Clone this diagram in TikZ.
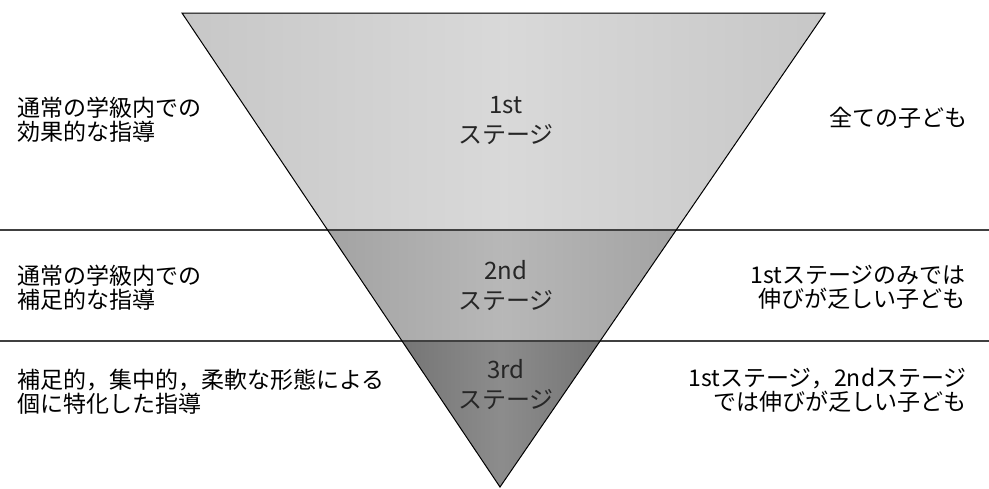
\documentclass[tikz,border=0pt]{standalone}
\usepackage{fontspec}
\setmainfont{Noto Sans CJK JP}
\usetikzlibrary{calc}
\definecolor{bandA}{gray}{0.78}
\definecolor{bandAl}{gray}{0.85}
\definecolor{bandB}{gray}{0.64}
\definecolor{bandBl}{gray}{0.72}
\definecolor{bandC}{gray}{0.46}
\definecolor{bandCl}{gray}{0.55}
\tikzset{
  lbl/.style={inner sep=0pt, font=\fontsize{23}{24}\selectfont},
  leftlbl/.style={lbl, anchor=west, align=left},
  rightlbl/.style={lbl, anchor=east, align=right},
  stagelbl/.style={inner sep=0pt, align=center, font=\fontsize{24}{30}\selectfont, text=black!85},
  sepline/.style={line width=1.1pt, black!75},
  outline/.style={line width=1pt, black}
}
\begin{document}
\begin{tikzpicture}[x=1pt,y=-1pt]
\useasboundingbox (0,0) rectangle (989,488);
\fill[white] (0,0) rectangle (989,488);
% triangle vertices
\coordinate (TL) at (182,13);
\coordinate (TR) at (825,13);
\coordinate (B) at (500,487);
\coordinate (L1) at ($(TL)!0.4578!(B)$);
\coordinate (R1) at ($(TR)!0.4578!(B)$);
\coordinate (L2) at ($(TL)!0.692!(B)$);
\coordinate (R2) at ($(TR)!0.692!(B)$);
% band fills
\shade[left color=bandA, right color=bandA, middle color=bandAl] (TL) -- (TR) -- (R1) -- (L1) -- cycle;
\shade[left color=bandB, right color=bandB, middle color=bandBl] (L1) -- (R1) -- (R2) -- (L2) -- cycle;
\shade[left color=bandC, right color=bandC, middle color=bandCl] (L2) -- (R2) -- (B) -- cycle;
% separator lines
\coordinate (S1a) at (0,230);
\coordinate (S1b) at (989,230);
\coordinate (S2a) at (0,341);
\coordinate (S2b) at (989,341);
\draw[sepline] (S1a) -- (S1b);
\draw[sepline] (S2a) -- (S2b);
% outline
\draw[outline, line join=miter] (TL) -- (TR) -- (B) -- cycle;
% stage labels
\node[stagelbl] (st1) at (506,121) {1st\\ステージ};
\node[stagelbl] (st2) at (506,286) {2nd\\ステージ};
\node[stagelbl] (st3) at (506,385) {3rd\\ステージ};
% left labels
\node[leftlbl] (l1) at (17,120) {通常の学級内での\\効果的な指導};
\node[leftlbl] (l2) at (17,288) {通常の学級内での\\補足的な指導};
\node[leftlbl] (l3) at (17,392) {補足的，集中的，柔軟な形態による\\個に特化した指導};
% right labels
\node[rightlbl] (r1) at (968,118) {全ての子ども};
\node[rightlbl] (r2) at (966,287) {1stステージのみでは\\伸びが乏しい子ども};
\node[rightlbl] (r3) at (967,390) {1stステージ，2ndステージ\\では伸びが乏しい子ども};
\end{tikzpicture}
\end{document}
